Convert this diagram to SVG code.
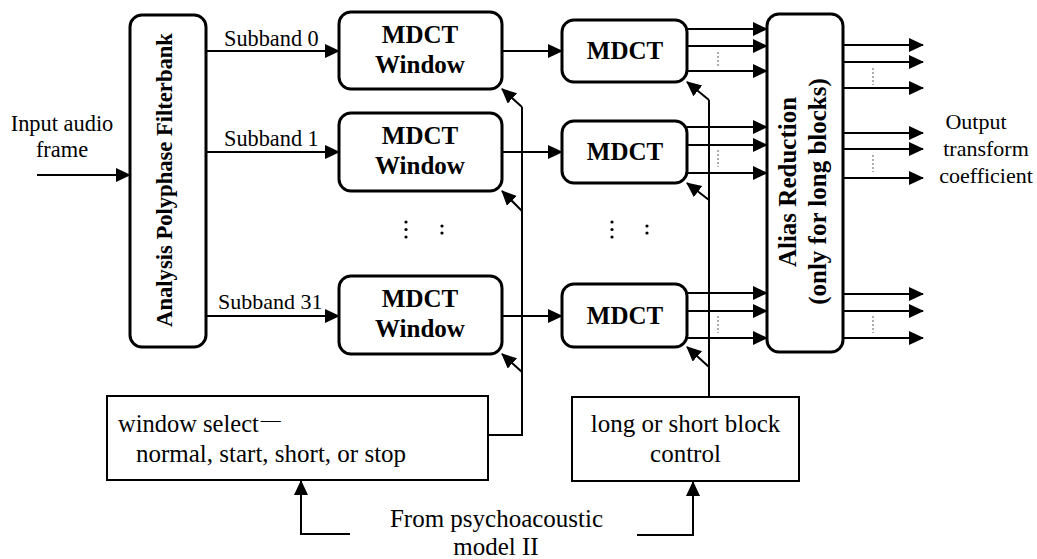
<svg xmlns="http://www.w3.org/2000/svg" width="1037" height="559" viewBox="0 0 1037 559">
  <style>
    .t { font-family: "Liberation Serif", "Times New Roman", serif; fill: #000; }
    .b { font-weight: bold; }
    .rbox { fill: #fff; stroke: #000; stroke-width: 3; }
    .box { fill: #fff; stroke: #000; stroke-width: 2; }
    .ln { fill: none; stroke: #000; stroke-width: 2; }
    .arr { marker-end: url(#ah); }
    .dot { fill: none; stroke: #777; stroke-width: 1.2; stroke-dasharray: 2 2; }
  </style>
  <defs>
    <marker id="ah" markerUnits="userSpaceOnUse" markerWidth="16" markerHeight="15" refX="14" refY="7" orient="auto">
      <path d="M0,0 L15,7 L0,14 Z" fill="#000"/>
    </marker>
  </defs>
  <rect width="1037" height="559" fill="#fff"/>

  <!-- connectors -->
  <g id="connectors">
    <!-- input -->
    <line class="ln arr" x1="37" y1="175" x2="130" y2="175"/>
    <!-- subbands -->
    <line class="ln arr" x1="206" y1="51" x2="339" y2="51"/>
    <line class="ln arr" x1="206" y1="152" x2="339" y2="152"/>
    <line class="ln arr" x1="206" y1="316" x2="339" y2="316"/>
    <!-- window to mdct -->
    <line class="ln arr" x1="502" y1="51" x2="562" y2="51"/>
    <line class="ln arr" x1="502" y1="152" x2="562" y2="152"/>
    <line class="ln arr" x1="502" y1="316" x2="562" y2="316"/>
    <!-- mdct to alias reduction -->
    <line class="ln arr" x1="687" y1="29" x2="767" y2="29"/>
    <line class="ln arr" x1="687" y1="46" x2="767" y2="46"/>
    <line class="ln arr" x1="687" y1="71" x2="767" y2="71"/>
    <line class="ln arr" x1="687" y1="127" x2="767" y2="127"/>
    <line class="ln arr" x1="687" y1="145" x2="767" y2="145"/>
    <line class="ln arr" x1="687" y1="173" x2="767" y2="173"/>
    <line class="ln arr" x1="687" y1="293" x2="767" y2="293"/>
    <line class="ln arr" x1="687" y1="311" x2="767" y2="311"/>
    <line class="ln arr" x1="687" y1="338" x2="767" y2="338"/>
    <line class="dot" x1="718" y1="52" x2="718" y2="68"/>
    <line class="dot" x1="718" y1="150" x2="718" y2="167"/>
    <line class="dot" x1="718" y1="316" x2="718" y2="333"/>
    <!-- outputs -->
    <line class="ln arr" x1="843" y1="45" x2="923" y2="45"/>
    <line class="ln arr" x1="843" y1="62" x2="923" y2="62"/>
    <line class="ln arr" x1="843" y1="88" x2="923" y2="88"/>
    <line class="ln arr" x1="843" y1="133" x2="923" y2="133"/>
    <line class="ln arr" x1="843" y1="149" x2="923" y2="149"/>
    <line class="ln arr" x1="843" y1="178" x2="923" y2="178"/>
    <line class="ln arr" x1="843" y1="294" x2="923" y2="294"/>
    <line class="ln arr" x1="843" y1="311" x2="923" y2="311"/>
    <line class="ln arr" x1="843" y1="338" x2="923" y2="338"/>
    <line class="dot" x1="873" y1="68" x2="873" y2="85"/>
    <line class="dot" x1="873" y1="155" x2="873" y2="172"/>
    <line class="dot" x1="873" y1="316" x2="873" y2="333"/>
    <!-- window select feed -->
    <polyline class="ln" points="488,435 522,435 522,107"/>
    <line class="ln arr" x1="522" y1="107" x2="502" y2="89"/>
    <line class="ln arr" x1="522" y1="211" x2="502" y2="191"/>
    <line class="ln arr" x1="522" y1="372" x2="502" y2="354"/>
    <!-- block control feed -->
    <line class="ln" x1="709" y1="397" x2="709" y2="100"/>
    <line class="ln arr" x1="709" y1="100" x2="687" y2="82"/>
    <line class="ln arr" x1="709" y1="200" x2="687" y2="183"/>
    <line class="ln arr" x1="709" y1="367" x2="687" y2="347"/>
    <!-- psychoacoustic model feeds -->
    <polyline class="ln arr" points="350,534 301,534 301,481"/>
    <polyline class="ln arr" points="637,535 693,535 693,482"/>
  </g>

  <!-- ellipsis dots between rows -->
  <g id="ellipsis" fill="#000">
    <circle cx="406" cy="222" r="1.6"/><circle cx="406" cy="229.5" r="1.6"/><circle cx="406" cy="237" r="1.6"/>
    <circle cx="442" cy="226" r="1.6"/><circle cx="442" cy="233" r="1.6"/>
    <circle cx="612" cy="222" r="1.6"/><circle cx="612" cy="229.5" r="1.6"/><circle cx="612" cy="237" r="1.6"/>
    <circle cx="647" cy="226" r="1.6"/><circle cx="647" cy="233" r="1.6"/>
  </g>

  <!-- filterbank -->
  <g id="filterbank">
    <rect class="rbox" x="130" y="15" width="76" height="332" rx="12"/>
    <text class="t b" font-size="22.6" text-anchor="middle" transform="translate(172,180) rotate(-90)">Analysis Polyphase Filterbank</text>
  </g>

  <!-- MDCT window blocks -->
  <g id="window0">
    <rect class="rbox" x="339" y="12" width="163" height="77" rx="12"/>
    <text class="t b" font-size="25" text-anchor="middle" x="420" y="43">MDCT</text>
    <text class="t b" font-size="25" text-anchor="middle" x="420" y="73">Window</text>
  </g>
  <g id="window1">
    <rect class="rbox" x="339" y="113" width="163" height="78" rx="12"/>
    <text class="t b" font-size="25" text-anchor="middle" x="420" y="144">MDCT</text>
    <text class="t b" font-size="25" text-anchor="middle" x="420" y="174">Window</text>
  </g>
  <g id="window31">
    <rect class="rbox" x="339" y="276" width="163" height="78" rx="12"/>
    <text class="t b" font-size="25" text-anchor="middle" x="420" y="307">MDCT</text>
    <text class="t b" font-size="25" text-anchor="middle" x="420" y="337">Window</text>
  </g>

  <!-- MDCT blocks -->
  <g id="mdct0">
    <rect class="rbox" x="562" y="20" width="125" height="62" rx="12"/>
    <text class="t b" font-size="25" text-anchor="middle" x="625" y="59">MDCT</text>
  </g>
  <g id="mdct1">
    <rect class="rbox" x="562" y="121" width="125" height="62" rx="12"/>
    <text class="t b" font-size="25" text-anchor="middle" x="625" y="160">MDCT</text>
  </g>
  <g id="mdct31">
    <rect class="rbox" x="562" y="284" width="125" height="63" rx="12"/>
    <text class="t b" font-size="25" text-anchor="middle" x="625" y="324">MDCT</text>
  </g>

  <!-- alias reduction -->
  <g id="alias">
    <rect class="rbox" x="767" y="14" width="76" height="338" rx="12"/>
    <text class="t b" font-size="25" text-anchor="middle" transform="translate(796,182) rotate(-90)">Alias Reduction</text>
    <text class="t b" font-size="25" text-anchor="middle" transform="translate(826,191.5) rotate(-90)">(only for long blocks)</text>
  </g>

  <!-- control boxes -->
  <g id="windowSelect">
    <rect class="box" x="107" y="396" width="381" height="84"/>
    <text class="t" font-size="24.5" x="118" y="432">window select<tspan font-size="20" dx="2" dy="-5">—</tspan></text>
    <text class="t" font-size="25" x="136" y="462">normal, start, short, or stop</text>
  </g>
  <g id="blockControl">
    <rect class="box" x="572" y="397" width="227" height="84"/>
    <text class="t" font-size="25" text-anchor="middle" x="685.5" y="432">long or short block</text>
    <text class="t" font-size="25" text-anchor="middle" x="685.5" y="462">control</text>
  </g>

  <!-- labels -->
  <g id="labels">
    <text class="t" font-size="22.4" text-anchor="middle" x="62" y="131">Input audio</text>
    <text class="t" font-size="22.4" text-anchor="middle" x="62" y="157">frame</text>
    <text class="t" font-size="22.3" x="224" y="46">Subband 0</text>
    <text class="t" font-size="22.3" x="224" y="146">Subband 1</text>
    <text class="t" font-size="22" x="218" y="309">Subband 31</text>
    <text class="t" font-size="22" text-anchor="middle" x="976" y="129">Output</text>
    <text class="t" font-size="22" text-anchor="middle" x="986" y="156">transform</text>
    <text class="t" font-size="22" text-anchor="middle" x="986" y="183">coefficient</text>
    <text class="t" font-size="25" text-anchor="middle" x="496.5" y="527">From psychoacoustic</text>
    <text class="t" font-size="25" text-anchor="middle" x="496" y="555">model II</text>
  </g>
</svg>
